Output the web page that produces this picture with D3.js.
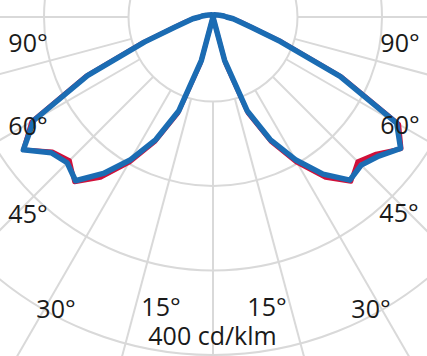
<!DOCTYPE html>
<html>
<head>
<meta charset="utf-8">
<script src="https://cdn.jsdelivr.net/npm/d3@7"></script>
<style>
  body { margin: 0; background: #fff; }
  svg { display: block; }
  text { font-family: "Open Sans", sans-serif; font-size: 25px; fill: #1a1a1a; }
</style>
</head>
<body>
<svg id="chart" width="427" height="356"></svg>
<script>
// gamma angles from nadir, degrees
const angles = [0, 5, 10, 15, 20, 25, 30, 35, 40, 45, 50, 55, 60, 65, 70, 75, 80, 85, 90, 95, 105, 120, 150, 180];

// intensities, cd/klm (C0 on the right, C180 on the left)
const blueRight = [0, 0, 0, 53, 118, 160, 195, 227, 252, 248, 256, 271, 251, 166, 85, 47, 32, 24, 16, 13, 8, 5, 3, 2];
const blueLeft  = [0, 0, 0, 53, 118, 160, 195, 226, 253, 244, 250, 274, 245, 164, 86, 47, 32, 24, 16, 13, 8, 5, 3, 2];
const redRight  = [0, 0, 0, 56, 121, 163, 199, 232, 254, 242, 252, 272, 254, 168, 87, 48, 33, 24, 16, 13, 8, 5, 3, 2];
const redLeft   = [0, 0, 0, 56, 121, 163, 199, 232, 255, 240, 248, 274, 248, 166, 88, 48, 33, 24, 16, 13, 8, 5, 3, 2];

const rings = [100, 200, 300, 400];
const spokes = [0, 15, 30, 45, 60, 75, 90];

const angleLabels = [
    { text: "90°", x: 28, y: 52 }, { text: "90°", x: 400, y: 52 },
    { text: "60°", x: 28, y: 135 }, { text: "60°", x: 400, y: 134 },
    { text: "45°", x: 28, y: 223 }, { text: "45°", x: 399, y: 222 },
    { text: "30°", x: 56, y: 318 }, { text: "30°", x: 371, y: 318 },
    { text: "15°", x: 161, y: 316 }, { text: "15°", x: 267, y: 316 }
];
const unitLabel = "400 cd/klm";

const svg = d3.select("#chart");
const cx = 213, cy = 17;

const r = d3.scaleLinear().domain([0, 400]).range([0, 338]);
const toRad = d => d * Math.PI / 180;

const g = svg.append("g").attr("transform", `translate(${cx},${cy})`);

// grid
g.selectAll("circle.ring")
    .data(rings)
    .enter().append("circle")
    .attr("r", d => r(d))
    .attr("fill", "none")
    .attr("stroke", "#d9d9d9")
    .attr("stroke-width", 2);

const spokeData = [];
spokes.forEach(a => { spokeData.push(a); if (a > 0) spokeData.push(-a); });
g.selectAll("line.spoke")
    .data(spokeData)
    .enter().append("line")
    .attr("x1", d => r(100) * Math.sin(toRad(d)))
    .attr("y1", d => r(100) * Math.cos(toRad(d)))
    .attr("x2", d => r(700) * Math.sin(toRad(d)))
    .attr("y2", d => r(700) * Math.cos(toRad(d)))
    .attr("stroke", "#d9d9d9")
    .attr("stroke-width", 2);

// curves: left half from 180 down to 0, then right half from 0 up to 180
function curvePoints(left, right) {
    const pts = [];
    for (let i = angles.length - 1; i >= 0; i--) pts.push({ a: Math.PI + toRad(angles[i]), v: left[i] });
    for (let i = 1; i < angles.length; i++) pts.push({ a: Math.PI - toRad(angles[i]), v: right[i] });
    return pts;
}

const line = d3.lineRadial()
    .angle(d => d.a)
    .radius(d => r(d.v));

g.append("path")
    .attr("d", line(curvePoints(redLeft, redRight)))
    .attr("fill", "none")
    .attr("stroke", "#d0103a")
    .attr("stroke-width", 4.5)
    .attr("stroke-linejoin", "round");

g.append("path")
    .attr("d", line(curvePoints(blueLeft, blueRight)))
    .attr("fill", "none")
    .attr("stroke", "#1b6cb3")
    .attr("stroke-width", 5.5)
    .attr("stroke-linejoin", "round");

// labels
svg.selectAll("text.angle")
    .data(angleLabels)
    .enter().append("text")
    .attr("x", d => d.x)
    .attr("y", d => d.y)
    .attr("text-anchor", "middle")
    .text(d => d.text);

svg.append("text")
    .attr("x", 212.5)
    .attr("y", 345)
    .attr("text-anchor", "middle")
    .text(unitLabel);
</script>
</body>
</html>
